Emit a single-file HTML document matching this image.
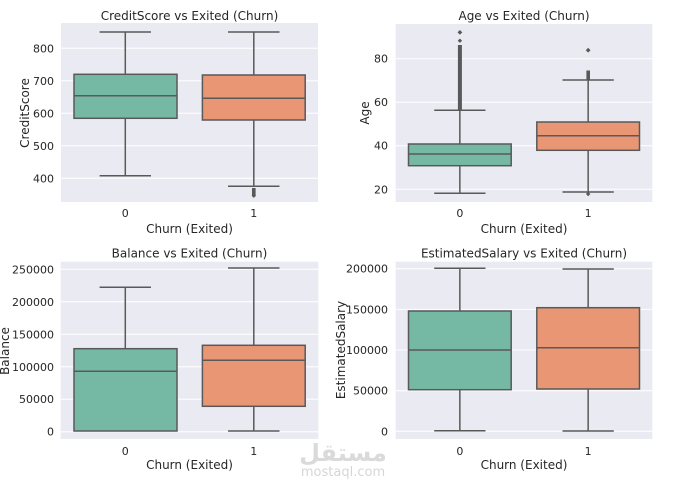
<!DOCTYPE html>
<html><head><meta charset="utf-8"><style>
html,body{margin:0;padding:0;background:#fff;}
svg{display:block;font-family:"DejaVu Sans","Liberation Sans",sans-serif;}
.t{font-size:12px;fill:#262626;text-anchor:middle;}
.tk{font-size:11px;fill:#262626;}
.grid{stroke:#fff;stroke-width:1;}
.ln{stroke:#595959;stroke-width:1.5;fill:none;}
.g{fill:#75b9a5;stroke:#595959;stroke-width:1.5;}
.o{fill:#e99675;stroke:#595959;stroke-width:1.5;}
.d{fill:#595959;}
</style></head><body>
<svg width="687" height="487" viewBox="0 0 687 487" xmlns="http://www.w3.org/2000/svg">
<rect width="687" height="487" fill="#fff"/>

<!-- Panel 1: CreditScore -->
<rect x="61" y="23" width="257" height="179" fill="#eaeaf2"/>
<g class="grid">
<line x1="61" x2="318" y1="48.3" y2="48.3"/><line x1="61" x2="318" y1="80.8" y2="80.8"/><line x1="61" x2="318" y1="113.3" y2="113.3"/><line x1="61" x2="318" y1="145.8" y2="145.8"/><line x1="61" x2="318" y1="178.3" y2="178.3"/>
</g>
<text class="t" x="189.5" y="20">CreditScore vs Exited (Churn)</text>
<g class="tk" text-anchor="end">
<text x="54" y="52.3">800</text><text x="54" y="84.8">700</text><text x="54" y="117.3">600</text><text x="54" y="149.8">500</text><text x="54" y="182.3">400</text>
</g>
<text class="t" transform="translate(25,113) rotate(-90)" dominant-baseline="central">CreditScore</text>
<text class="tk" x="125.3" y="217" text-anchor="middle">0</text>
<text class="tk" x="253.8" y="217" text-anchor="middle">1</text>
<text class="t" x="189.5" y="233">Churn (Exited)</text>
<!-- box 0 -->
<line class="ln" x1="125.3" x2="125.3" y1="32" y2="74.3"/><line class="ln" x1="125.3" x2="125.3" y1="118.3" y2="175.7"/>
<line class="ln" x1="99.6" x2="151" y1="32" y2="32"/><line class="ln" x1="99.6" x2="151" y1="175.7" y2="175.7"/>
<rect class="g" x="74" y="74.3" width="103" height="44"/>
<line class="ln" x1="74" x2="177" y1="95.7" y2="95.7"/>
<!-- box 1 -->
<line class="ln" x1="253.8" x2="253.8" y1="32" y2="75"/><line class="ln" x1="253.8" x2="253.8" y1="120" y2="186.3"/>
<line class="ln" x1="228" x2="279.5" y1="32" y2="32"/><line class="ln" x1="228" x2="279.5" y1="186.3" y2="186.3"/>
<rect class="o" x="202.4" y="75" width="102.8" height="45"/>
<line class="ln" x1="202.4" x2="305.2" y1="98.3" y2="98.3"/>
<rect class="d" x="252" y="188" width="3.6" height="8"/>
<path class="d" d="M253.8 193.5 l2.2 2.2 -2.2 2.2 -2.2 -2.2z"/>

<!-- Panel 2: Age -->
<rect x="395.7" y="24" width="256.6" height="178" fill="#eaeaf2"/>
<g class="grid">
<line x1="395.7" x2="652.3" y1="58.7" y2="58.7"/><line x1="395.7" x2="652.3" y1="102.2" y2="102.2"/><line x1="395.7" x2="652.3" y1="145.7" y2="145.7"/><line x1="395.7" x2="652.3" y1="189.3" y2="189.3"/>
</g>
<text class="t" x="524" y="20">Age vs Exited (Churn)</text>
<g class="tk" text-anchor="end">
<text x="388" y="62.7">80</text><text x="388" y="106.2">60</text><text x="388" y="149.7">40</text><text x="388" y="193.3">20</text>
</g>
<text class="t" transform="translate(365,113) rotate(-90)" dominant-baseline="central">Age</text>
<text class="tk" x="459.85" y="217" text-anchor="middle">0</text>
<text class="tk" x="588.15" y="217" text-anchor="middle">1</text>
<text class="t" x="524" y="233">Churn (Exited)</text>
<!-- box 0 -->
<rect class="d" x="457.9" y="45" width="4" height="65"/>
<path class="d" d="M459.9 38.5 l2.2 2.2 -2.2 2.2 -2.2 -2.2z"/>
<path class="d" d="M459.9 30 l2.4 2.4 -2.4 2.4 -2.4 -2.4z"/>
<line class="ln" x1="459.85" x2="459.85" y1="110.3" y2="144"/><line class="ln" x1="459.85" x2="459.85" y1="165.7" y2="193.3"/>
<line class="ln" x1="434.2" x2="485.5" y1="110.3" y2="110.3"/><line class="ln" x1="434.2" x2="485.5" y1="193.3" y2="193.3"/>
<rect class="g" x="408.5" y="144" width="102.7" height="21.7"/>
<line class="ln" x1="408.5" x2="511.2" y1="154" y2="154"/>
<!-- box 1 -->
<rect class="d" x="586.4" y="70.5" width="3.6" height="9"/>
<path class="d" d="M588.15 47.8 l2.4 2.4 -2.4 2.4 -2.4 -2.4z"/>
<path class="d" d="M588.15 191.8 l2.2 2.2 -2.2 2.2 -2.2 -2.2z"/>
<line class="ln" x1="588.15" x2="588.15" y1="80" y2="122"/><line class="ln" x1="588.15" x2="588.15" y1="150.3" y2="192"/>
<line class="ln" x1="562.5" x2="613.8" y1="80" y2="80"/><line class="ln" x1="562.5" x2="613.8" y1="192" y2="192"/>
<rect class="o" x="536.8" y="122" width="102.7" height="28.3"/>
<line class="ln" x1="536.8" x2="639.5" y1="135.7" y2="135.7"/>

<!-- Panel 3: Balance -->
<rect x="60.7" y="261.7" width="257.6" height="177.3" fill="#eaeaf2"/>
<g class="grid">
<line x1="60.7" x2="318.3" y1="269.3" y2="269.3"/><line x1="60.7" x2="318.3" y1="301.8" y2="301.8"/><line x1="60.7" x2="318.3" y1="334.3" y2="334.3"/><line x1="60.7" x2="318.3" y1="366.8" y2="366.8"/><line x1="60.7" x2="318.3" y1="399.2" y2="399.2"/><line x1="60.7" x2="318.3" y1="431.7" y2="431.7"/>
</g>
<text class="t" x="189.5" y="257.5">Balance vs Exited (Churn)</text>
<g class="tk" text-anchor="end">
<text x="54" y="273.3">250000</text><text x="54" y="305.8">200000</text><text x="54" y="338.3">150000</text><text x="54" y="370.8">100000</text><text x="54" y="403.2">50000</text><text x="54" y="435.7">0</text>
</g>
<text class="t" transform="translate(5,351) rotate(-90)" dominant-baseline="central">Balance</text>
<text class="tk" x="125.3" y="455" text-anchor="middle">0</text>
<text class="tk" x="253.8" y="455" text-anchor="middle">1</text>
<text class="t" x="189.5" y="469">Churn (Exited)</text>
<!-- box 0 -->
<line class="ln" x1="125.3" x2="125.3" y1="287.3" y2="348.7"/>
<line class="ln" x1="99.6" x2="151" y1="287.3" y2="287.3"/>
<rect class="g" x="74" y="348.7" width="103" height="82.3"/>
<line class="ln" x1="74" x2="177" y1="371.3" y2="371.3"/>
<!-- box 1 -->
<line class="ln" x1="253.8" x2="253.8" y1="268" y2="345.3"/><line class="ln" x1="253.8" x2="253.8" y1="406.3" y2="431"/>
<line class="ln" x1="228" x2="279.5" y1="268" y2="268"/><line class="ln" x1="228" x2="279.5" y1="431" y2="431"/>
<rect class="o" x="202.4" y="345.3" width="102.8" height="61"/>
<line class="ln" x1="202.4" x2="305.2" y1="360.3" y2="360.3"/>

<!-- Panel 4: EstimatedSalary -->
<rect x="395.7" y="261.7" width="256.6" height="177.3" fill="#eaeaf2"/>
<g class="grid">
<line x1="395.7" x2="652.3" y1="268.7" y2="268.7"/><line x1="395.7" x2="652.3" y1="309.4" y2="309.4"/><line x1="395.7" x2="652.3" y1="350" y2="350"/><line x1="395.7" x2="652.3" y1="390.7" y2="390.7"/><line x1="395.7" x2="652.3" y1="431.3" y2="431.3"/>
</g>
<text class="t" x="524" y="257.5">EstimatedSalary vs Exited (Churn)</text>
<g class="tk" text-anchor="end">
<text x="388" y="272.7">200000</text><text x="388" y="313.4">150000</text><text x="388" y="354">100000</text><text x="388" y="394.7">50000</text><text x="388" y="435.3">0</text>
</g>
<text class="t" transform="translate(341,350) rotate(-90)" dominant-baseline="central">EstimatedSalary</text>
<text class="tk" x="459.85" y="455" text-anchor="middle">0</text>
<text class="tk" x="588.15" y="455" text-anchor="middle">1</text>
<text class="t" x="524" y="469">Churn (Exited)</text>
<!-- box 0 -->
<line class="ln" x1="459.85" x2="459.85" y1="268.3" y2="311"/><line class="ln" x1="459.85" x2="459.85" y1="389.7" y2="430.7"/>
<line class="ln" x1="434.2" x2="485.5" y1="268.3" y2="268.3"/><line class="ln" x1="434.2" x2="485.5" y1="430.7" y2="430.7"/>
<rect class="g" x="408.5" y="311" width="102.7" height="78.7"/>
<line class="ln" x1="408.5" x2="511.2" y1="350" y2="350"/>
<!-- box 1 -->
<line class="ln" x1="588.15" x2="588.15" y1="269" y2="307.7"/><line class="ln" x1="588.15" x2="588.15" y1="389" y2="431"/>
<line class="ln" x1="562.5" x2="613.8" y1="269" y2="269"/><line class="ln" x1="562.5" x2="613.8" y1="431" y2="431"/>
<rect class="o" x="536.8" y="307.7" width="102.7" height="81.3"/>
<line class="ln" x1="536.8" x2="639.5" y1="347.7" y2="347.7"/>

<!-- watermark -->
<text x="343" y="461" text-anchor="middle" font-size="24" font-weight="bold" fill="#dadada" font-family="'DejaVu Sans','Noto Sans CJK SC',sans-serif">مستقل</text>
<text x="343" y="476" text-anchor="middle" font-size="13" fill="#d6d6d6">mostaql.com</text>
</svg>
</body></html>
